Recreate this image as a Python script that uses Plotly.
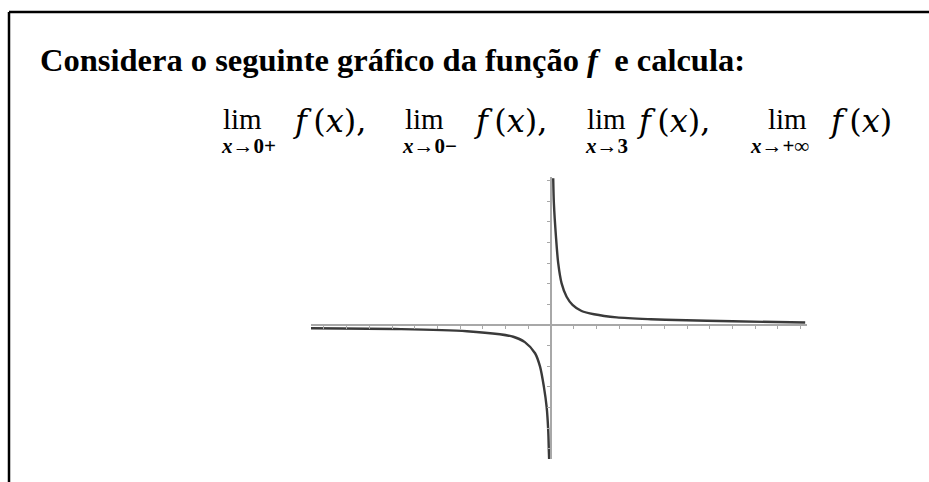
import plotly.graph_objects as go

# Branch x > 0 of f (values in axis units)
right_x = [0.10, 0.13, 0.22, 0.32, 0.47, 0.69, 0.95, 1.35, 1.9, 2.9, 4.4, 5.5, 8.0, 11.2]
right_y = [7.12, 5.9, 4.3, 3.0, 2.02, 1.37, 0.98, 0.68, 0.52, 0.37, 0.28, 0.24, 0.18, 0.12]

# Branch x < 0 of f
left_x = [-10.6, -6.6, -3.7, -2.25, -1.66, -1.15, -0.70, -0.48, -0.31, -0.19, -0.12, -0.09, -0.08]
left_y = [-0.16, -0.2, -0.3, -0.45, -0.57, -0.83, -1.37, -2.02, -3.0, -3.97, -5.1, -6.2, -6.5]

x_range = [-10.57, 11.28]
y_range = [-6.5, 7.18]

title_text = "<b>Considera o seguinte gráfico da função <i>f</i>\u00a0 e calcula:</b>"
lim_subs = ["<i>x</i>→0+", "<i>x</i>→0−", "<i>x</i>→3", "<i>x</i>→+∞"]
lim_tails = ["<i>f</i>\u2009(<i>x</i>),", "<i>f</i>\u2009(<i>x</i>),",
             "<i>f</i>\u2009(<i>x</i>),", "<i>f</i>\u2009(<i>x</i>)"]

W, H = 929, 482
curve_color = "#3a3a3a"
axis_color = "#a8a8a8"

fig = go.Figure()
for xs, ys in [(right_x, right_y), (left_x, left_y)]:
    fig.add_trace(go.Scatter(
        x=xs, y=ys, mode="lines", line=dict(color=curve_color, width=2.4, shape="spline", smoothing=0.8),
        hoverinfo="skip", showlegend=False,
    ))

x_dom = [311 / W, 807 / W]
y_dom = [(H - 459) / H, (H - 177) / H]
# paper position where each axis crosses zero
x_axis_pos = y_dom[0] + (0 - y_range[0]) / (y_range[1] - y_range[0]) * (y_dom[1] - y_dom[0])
y_axis_pos = x_dom[0] + (0 - x_range[0]) / (x_range[1] - x_range[0]) * (x_dom[1] - x_dom[0])

fig.update_layout(
    width=W, height=H, autosize=False,
    margin=dict(l=0, r=0, t=0, b=0),
    paper_bgcolor="white", plot_bgcolor="white",
    xaxis=dict(
        domain=x_dom, range=x_range, anchor="free", position=x_axis_pos,
        showgrid=False, zeroline=False, showline=True, linecolor=axis_color, linewidth=1.5,
        ticks="outside", ticklen=3, tickwidth=1, tickcolor=axis_color,
        tick0=0, dtick=1, showticklabels=False,
    ),
    yaxis=dict(
        domain=y_dom, range=y_range, anchor="free", position=y_axis_pos,
        showgrid=False, zeroline=False, showline=True, linecolor=axis_color, linewidth=1.5,
        ticks="outside", ticklen=3, tickwidth=1, tickcolor=axis_color,
        tick0=0, dtick=1, showticklabels=False,
    ),
    shapes=[
        dict(type="line", xref="paper", yref="paper", x0=9 / W, x1=1, y0=1 - 12 / H, y1=1 - 12 / H,
             line=dict(color="black", width=2.5)),
        dict(type="line", xref="paper", yref="paper", x0=9 / W, x1=9 / W, y0=0, y1=1 - 12 / H,
             line=dict(color="black", width=2.5)),
    ],
)

# heading
fig.add_annotation(
    text=title_text, xref="paper", yref="paper", x=38 / W, y=1 - 60 / H,
    xanchor="left", yanchor="middle", showarrow=False,
    font=dict(family="Liberation Serif", size=32.5, color="black"),
)

lim_x = [221, 403, 585, 766]
sub_x = [219, 400, 583, 748]
tail_x = [291, 472, 635, 827]
for lx, sx, tx, sub, tail in zip(lim_x, sub_x, tail_x, lim_subs, lim_tails):
    fig.add_annotation(text="lim", xref="paper", yref="paper", x=lx / W, y=1 - 119 / H,
                       xanchor="left", yanchor="middle", showarrow=False,
                       font=dict(family="Liberation Serif", size=29, color="black"))
    fig.add_annotation(text="<b>" + sub + "</b>", xref="paper", yref="paper", x=sx / W, y=1 - 146 / H,
                       xanchor="left", yanchor="middle", showarrow=False,
                       font=dict(family="Liberation Serif", size=21, color="black"))
    fig.add_annotation(text=tail, xref="paper", yref="paper", x=tx / W, y=1 - 121 / H,
                       xanchor="left", yanchor="middle", showarrow=False,
                       font=dict(family="DejaVu Serif", size=32, color="black"))

fig.write_html("out.html")
